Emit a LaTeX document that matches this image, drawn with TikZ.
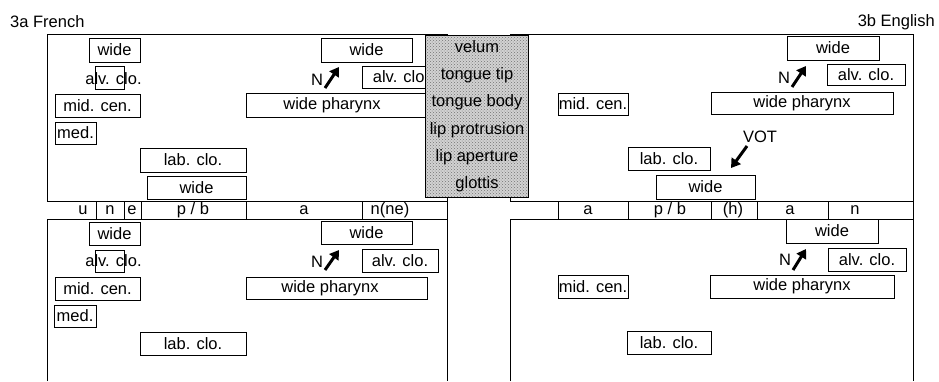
\documentclass[tikz,border=0pt]{standalone}
\usepackage{fontspec}
\setmainfont{Liberation Sans}
\usetikzlibrary{arrows.meta, patterns}

\begin{document}
\begin{tikzpicture}[x=1pt, y=-1pt,
    box/.style={draw, line width=0.8pt, inner sep=0pt},
    lbl/.style={inner sep=0pt},
    fat/.style={line width=3pt, -{Triangle[length=9pt, width=11pt]}},
    frame/.style={line width=0.8pt}]
  \useasboundingbox (0,0) rectangle (939,381);
  \fontsize{16.5}{19}\selectfont

  % titoli
  \node[lbl, anchor=west] (tfr) at (10,22) {3a French};
  \node[lbl, anchor=east] (ten) at (935,22) {3b English};

  % cornici
  \draw[frame] (47,34) rectangle (447,201);
  \draw[frame] (510,34) rectangle (913,201);
  \draw[frame] (47,381)--(47,219)--(447,219)--(447,381);
  \draw[frame] (510,381)--(510,219)--(913,219)--(913,381);
  \draw[frame] (447,201)--(447,219) (913,201)--(913,219);
  \foreach \x in {96,124,141,246,362,558,628,711,757,828}
    \draw[frame] (\x,201)--(\x,219);

  % segmenti
  \foreach \x/\s/\n in {83/u/su, 110/n/sn, 132/e/se, 193/{p / b}/spb, 304/a/sa, 390/n(ne)/snne,
                        588/a/sa2, 670/{p / b}/spb2, 733/(h)/sh2, 790/a/sa3, 855/n/sn2}
    \node[lbl] (\n) at (\x,210) {\s};

  % francese sopra
  \node[box, minimum width=51, minimum height=24] (fwa) at (114.5,50) {wide};
  \node[lbl] (falv) at (113.5,79) {alv. clo.};
  \node[box, minimum width=29, minimum height=23] (falvb) at (110,77.5) {};
  \node[box, minimum width=85, minimum height=23] (fmid) at (97.5,105.5) {mid. cen.};
  \node[box, minimum width=41, minimum height=22] (fmed) at (75.5,133) {med.};
  \node[box, minimum width=106, minimum height=24] (flab) at (193,160) {lab. clo.};
  \node[box, minimum width=99, minimum height=23] (fwc) at (196.5,187.5) {wide};
  \node[box, minimum width=91, minimum height=24] (fwb) at (366.5,50) {wide};
  \node[lbl] (fn) at (317,80) {N};
  \coordinate (fna) at (325,88);
  \coordinate (fnb) at (339,67);
  \draw[fat] (fna)--(fnb);
  \node[box, minimum width=78, minimum height=22] (falv2) at (401,77) {alv. clo.};
  \node[box, minimum width=194, minimum height=24] (fph) at (343,105) {};
  \node[lbl] (fpht) at (332,105) {wide pharynx};

  % francese sotto
  \node[box, minimum width=51, minimum height=23] (gwa) at (114.5,233.5) {wide};
  \node[lbl] (galv) at (113.5,261) {alv. clo.};
  \node[box, minimum width=29, minimum height=22] (galvb) at (109.5,261) {};
  \node[box, minimum width=85, minimum height=23] (gmid) at (97.5,288.5) {mid. cen.};
  \node[box, minimum width=42, minimum height=22] (gmed) at (75,316) {med.};
  \node[box, minimum width=106, minimum height=23] (glab) at (193,343.5) {lab. clo.};
  \node[box, minimum width=91, minimum height=23] (gwb) at (366.5,232.5) {wide};
  \node[lbl] (gn) at (317,262) {N};
  \coordinate (gna) at (325,270);
  \coordinate (gnb) at (339,250);
  \draw[fat] (gna)--(gnb);
  \node[box, minimum width=76, minimum height=23] (galv2) at (400,260.5) {alv. clo.};
  \node[box, minimum width=181, minimum height=22] (gph) at (336.5,288) {};
  \node[lbl] (gpht) at (330,288) {wide pharynx};

  % articolatori
  \fill[gray!35] (425,35) rectangle (528,197);
  \fill[pattern color=black!55, pattern=crosshatch dots] (425,35) rectangle (528,197);
  \draw[line width=0.8pt] (425,35) rectangle (528,197);
  \foreach \y/\s/\n in {47/velum/av, 75/tongue tip/att, 102/tongue body/atb,
                        130/lip protrusion/alp, 157/lip aperture/ala, 184/glottis/agl}
    \node[lbl] (\n) at (477,\y) {\s};

  % inglese sopra
  \node[box, minimum width=92, minimum height=24] (ewa) at (833,48) {wide};
  \node[lbl] (en) at (784,78) {N};
  \coordinate (ena) at (792,87);
  \coordinate (enb) at (806,66);
  \draw[fat] (ena)--(enb);
  \node[box, minimum width=78, minimum height=21] (ealv) at (866,74.5) {alv. clo.};
  \node[box, minimum width=70, minimum height=22] (emid) at (593,104) {mid. cen.};
  \node[box, minimum width=182, minimum height=22] (eph) at (802,103) {wide pharynx};
  \node[lbl] (evot) at (760,137) {VOT};
  \coordinate (eva) at (747,146);
  \coordinate (evb) at (731,168);
  \draw[fat] (eva)--(evb);
  \node[box, minimum width=82, minimum height=23] (elab) at (669,158.5) {lab. clo.};
  \node[box, minimum width=99, minimum height=24] (ewb) at (705.5,187) {wide};

  % inglese sotto
  \node[box, minimum width=92, minimum height=24] (hwa) at (832,231) {wide};
  \node[lbl] (hn) at (785,260) {N};
  \coordinate (hna) at (793,270);
  \coordinate (hnb) at (806,249);
  \draw[fat] (hna)--(hnb);
  \node[box, minimum width=78, minimum height=23] (halv) at (867,259.5) {alv. clo.};
  \node[box, minimum width=70, minimum height=23] (hmid) at (593,286.5) {mid. cen.};
  \node[box, minimum width=184, minimum height=23] (hph) at (802,286.5) {wide pharynx};
  \node[box, minimum width=84, minimum height=23] (hlab) at (669,342.5) {lab. clo.};
\end{tikzpicture}
\end{document}
